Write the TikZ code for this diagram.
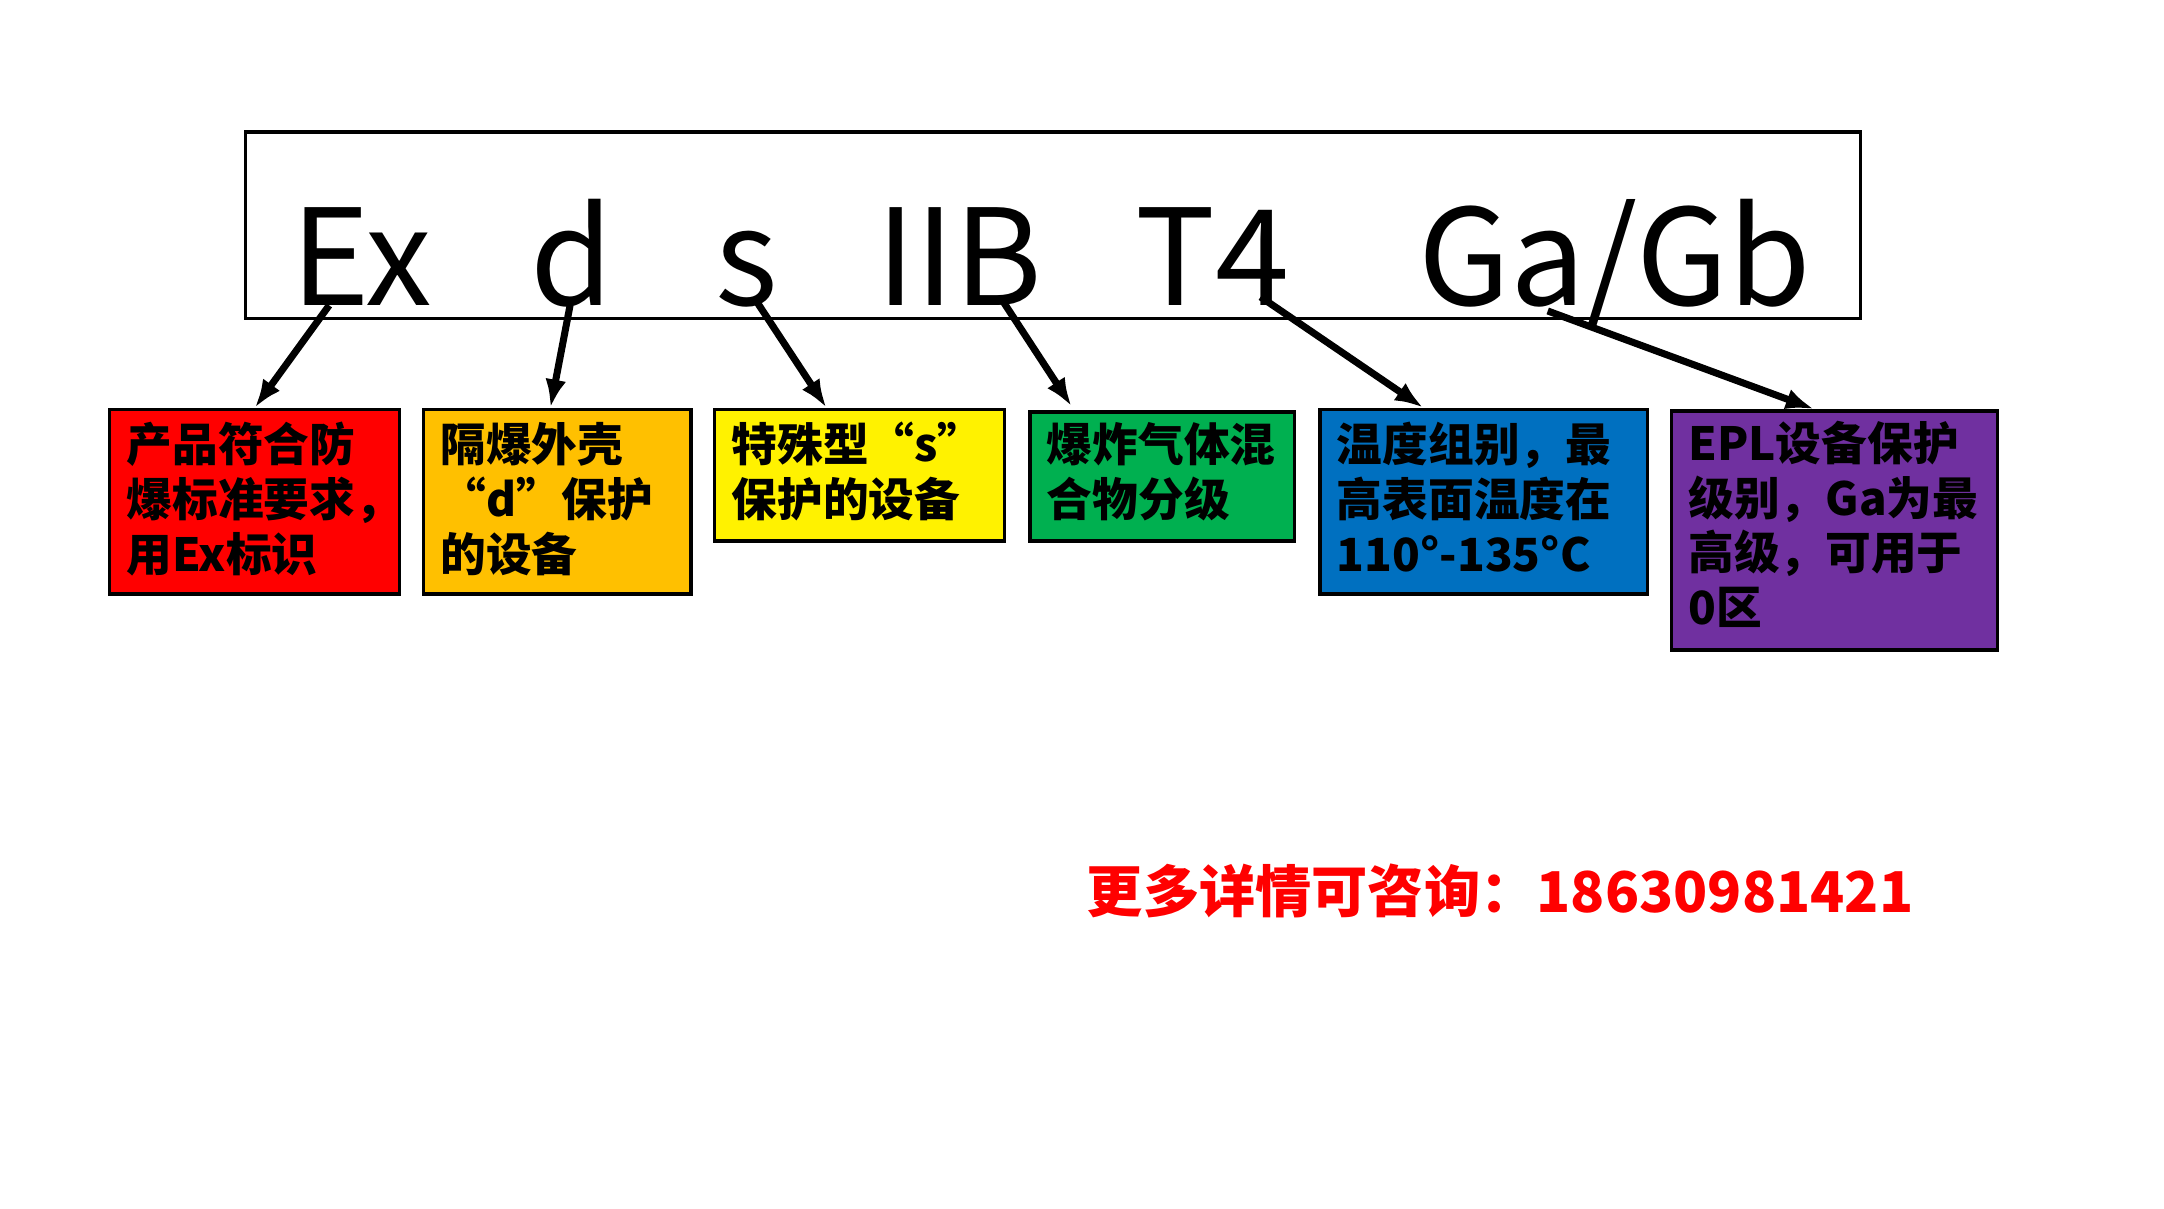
\documentclass[tikz,border=0pt]{standalone}
\usepackage{fontspec}
\setmainfont{Noto Sans CJK SC}
\usetikzlibrary{calc,arrows.meta}
\begin{document}
\begin{tikzpicture}[x=0.014006cm,y=-0.014006cm,
  box/.style={draw=black,line width=1pt,inner sep=0pt,anchor=north west},
  txt/.style={anchor=north west,align=left,inner sep=0pt,font=\bfseries\fontsize{13pt}{15.6pt}\selectfont},
  big/.style={anchor=base,inner sep=0pt,font=\fontsize{38pt}{40pt}\selectfont},
  arr/.style={-{Latex[length=8pt,width=6pt]},line width=2pt}]
\useasboundingbox (0,0) rectangle (1545,863);
\fill[white] (0,0) rectangle (1545,863);
\node[draw,line width=1pt,minimum width=16.15cm,minimum height=1.863cm,anchor=north west,inner sep=0pt] (frame) at (174,93) {};
\node[big] (ex) at (258,218) {Ex};
\node[big] (d) at (408,218) {d};
\node[big] (s) at (533,218) {s};
\node[big] (iib) at (685,218) {IIB};
\node[big] (t4) at (866,218) {T4};
\node[big] (ga) at (1153,218) {Ga/Gb};
\node[box,fill=red,minimum width=2.899cm,minimum height=1.849cm] (b1) at (77,291) {};
\node[box,fill={rgb,255:red,255;green,192;blue,0},minimum width=2.675cm,minimum height=1.849cm] (b2) at (301,291) {};
\node[box,fill=yellow,minimum width=2.899cm,minimum height=1.317cm] (b3) at (509,291) {};
\node[box,fill={rgb,255:red,0;green,176;blue,80},minimum width=2.647cm,minimum height=1.289cm] (b4) at (734,293) {};
\node[box,fill={rgb,255:red,0;green,112;blue,192},minimum width=3.277cm,minimum height=1.849cm] (b5) at (941,291) {};
\node[box,fill={rgb,255:red,112;green,48;blue,160},minimum width=3.263cm,minimum height=2.395cm] (b6) at (1192,292) {};
\node[txt] (t1) at ($(b1.north west)+(13,10)$) {产品符合防\\爆标准要求，\\用Ex标识};
\node[txt] (t2) at ($(b2.north west)+(13,10)$) {隔爆外壳\\“d”保护\\的设备};
\node[txt] (t3) at ($(b3.north west)+(13,10)$) {特殊型“s”\\保护的设备};
\node[txt] (t4t) at ($(b4.north west)+(13,8)$) {爆炸气体混\\合物分级};
\node[txt] (t5) at ($(b5.north west)+(13,10)$) {温度组别，最\\高表面温度在\\110°-135°C};
\node[txt] (t6) at ($(b6.north west)+(13,8)$) {EPL设备保护\\级别，Ga为最\\高级，可用于\\0区};
\draw[arr] ($(ex.base)+(-23,0)$) -- ($(b1.north west)+(105,0)$);
\draw[arr] ($(d.base)+(-1,0)$) -- ($(b2.north west)+(92,0)$);
\draw[arr] ($(s.base)+(7,-3)$) -- ($(b3.north west)+(81,0)$);
\draw[arr] ($(iib.base)+(31,-3)$) -- ($(b4.north west)+(31,-3)$);
\draw[arr] ($(t4.base)+(34,-6)$) -- ($(b5.north west)+(75,0)$);
\draw[arr] ($(ga.base)+(-48,4)$) -- ($(b6.north west)+(103,0)$);
\node[text=red,font=\bfseries\fontsize{16pt}{18pt}\selectfont,inner sep=0pt] (info) at (1071,636) {更多详情可咨询：18630981421};
\end{tikzpicture}
\end{document}
